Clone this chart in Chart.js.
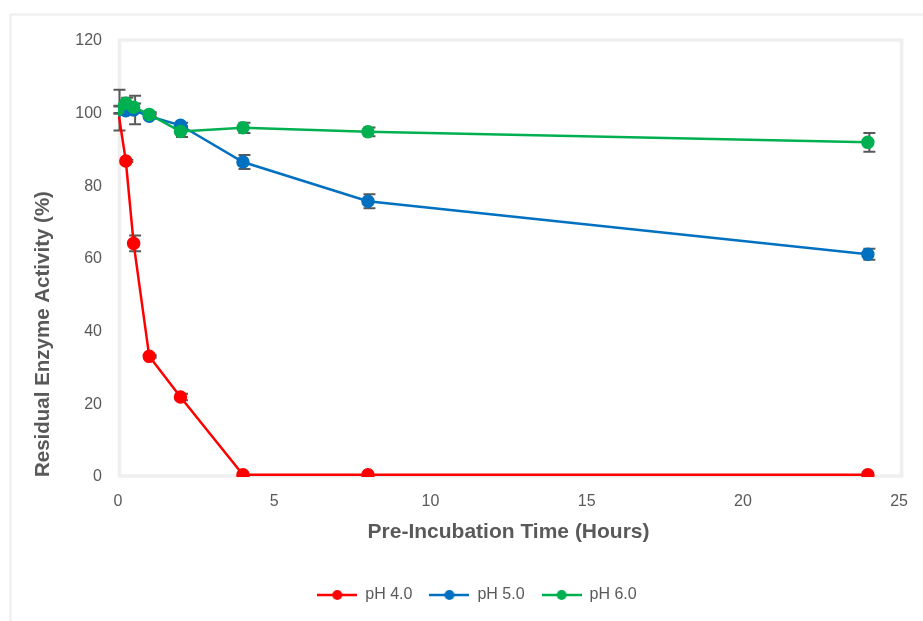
<!DOCTYPE html>
<html>
<head>
<meta charset="utf-8">
<title>Residual Enzyme Activity</title>
<script src="https://cdn.jsdelivr.net/npm/chart.js@4/dist/chart.umd.min.js"></script>
<style>
  html, body { margin: 0; padding: 0; background: #ffffff; }
  #wrap { width: 923px; height: 621px; position: relative; }
</style>
</head>
<body>
<div id="wrap"><canvas id="chart" width="923" height="621"></canvas></div>
<script>
// Pre-incubation time points (hours)
const hours = [0, 0.25, 0.5, 1, 2, 4, 8, 24];

// Residual activity (%) and standard deviation per pH
const ph4 = [101, 87, 64.3, 33.2, 22, 0.6, 0.6, 0.6];
const ph4Err = [5.6, 0.3, 2.2, 0.3, 0.9, 0, 0, 0];

const ph5 = [101, 100.8, 101, 99.3, 96.8, 86.7, 75.9, 61.3];
const ph5Err = [1, 1, 3.9, 0.6, 0.7, 1.9, 1.9, 1.5];

const ph6 = [101.2, 102.9, 101.8, 99.8, 95.1, 96.1, 95.0, 92.1];
const ph6Err = [1, 1.5, 1, 0.6, 1.5, 1.4, 1.2, 2.6];

const seriesLabels = ['pH 4.0', 'pH 5.0', 'pH 6.0'];
const seriesColors = ['#FF0000', '#0070C0', '#00B050'];

const xTicks = { min: 0, max: 25, step: 5 };
const yTicks = { min: 0, max: 120, step: 20 };

const textGray = '#595959';
const fontFamily = '"Liberation Sans", Arial, sans-serif';

function toPoints(values) {
  return hours.map((h, i) => ({ x: h, y: values[i] }));
}

const seriesValues = [ph4, ph5, ph6];
const seriesErrors = [ph4Err, ph5Err, ph6Err];

// Legend symbol: short line with a dot in the middle
function legendSymbol(color) {
  const c = document.createElement('canvas');
  c.width = 40; c.height = 12;
  const g = c.getContext('2d');
  g.strokeStyle = color; g.lineWidth = 2.5;
  g.beginPath(); g.moveTo(0, 6); g.lineTo(40, 6); g.stroke();
  g.fillStyle = color;
  g.beginPath(); g.arc(20, 6, 5, 0, Math.PI * 2); g.fill();
  return c;
}

// Outer frame and plot-area frame
const framePlugin = {
  id: 'frames',
  beforeDraw(chart) {
    const ctx = chart.ctx;
    ctx.save();
    ctx.fillStyle = '#ffffff';
    ctx.fillRect(0, 0, chart.width, chart.height);
    ctx.strokeStyle = '#eeeeee';
    ctx.lineWidth = 2;
    ctx.strokeRect(10.5, 14.5, chart.width + 20, chart.height + 20);
    ctx.restore();
  },
  beforeDatasetsDraw(chart) {
    const { ctx, chartArea: a } = chart;
    ctx.save();
    ctx.strokeStyle = '#efefef';
    ctx.lineWidth = 3.5;
    ctx.strokeRect(a.left + 1.5, a.top - 1, a.right - a.left + 1, a.bottom - a.top);
    ctx.restore();
  }
};

// Vertical error bars with caps
const errorBarPlugin = {
  id: 'errorBars',
  beforeDatasetsDraw(chart) {
    const ctx = chart.ctx;
    const xs = chart.scales.x, ys = chart.scales.y;
    ctx.save();
    ctx.strokeStyle = '#595959';
    ctx.lineWidth = 2;
    seriesValues.forEach((vals, s) => {
      vals.forEach((v, i) => {
        const e = seriesErrors[s][i];
        if (!e) return;
        const px = xs.getPixelForValue(hours[i]) + 1.5;
        const top = ys.getPixelForValue(v + e);
        const bot = ys.getPixelForValue(v - e);
        ctx.beginPath();
        ctx.moveTo(px, top); ctx.lineTo(px, bot);
        ctx.moveTo(px - 6, top); ctx.lineTo(px + 6, top);
        ctx.moveTo(px - 6, bot); ctx.lineTo(px + 6, bot);
        ctx.stroke();
      });
    });
    ctx.restore();
  }
};

// Shift the legend row horizontally
const legendShift = {
  id: 'legendShift',
  afterLayout(chart) {
    if (chart.legend) {
      chart.legend.left += 22;
      chart.legend.right += 22;
    }
  }
};

// Later series are painted over earlier ones
const datasets = seriesLabels.map((label, s) => ({
  label: label,
  data: toPoints(seriesValues[s]),
  order: seriesLabels.length - s,
  borderColor: seriesColors[s],
  backgroundColor: seriesColors[s],
  pointBackgroundColor: seriesColors[s],
  pointBorderColor: seriesColors[s],
  borderWidth: 2.5,
  pointRadius: 5.5,
  pointHoverRadius: 5.5,
  tension: 0,
  fill: false
}));

new Chart(document.getElementById('chart'), {
  type: 'line',
  data: { datasets: datasets },
  plugins: [framePlugin, errorBarPlugin, legendShift],
  options: {
    responsive: false,
    animation: false,
    devicePixelRatio: 1,
    layout: { padding: { left: 10, top: 41, right: 23, bottom: 8 } },
    plugins: {
      tooltip: { enabled: false },
      legend: {
        position: 'bottom',
        labels: {
          usePointStyle: true,
          pointStyleWidth: 40,
          padding: 17,
          color: textGray,
          font: { family: fontFamily, size: 16 },
          generateLabels(chart) {
            return chart.data.datasets.map((d, i) => ({
              text: d.label,
              pointStyle: legendSymbol(seriesColors[i]),
              fillStyle: seriesColors[i],
              strokeStyle: seriesColors[i],
              fontColor: textGray,
              lineWidth: 0,
              hidden: false,
              datasetIndex: i
            }));
          }
        }
      }
    },
    scales: {
      x: {
        type: 'linear',
        min: xTicks.min,
        max: xTicks.max,
        grid: { display: false, drawTicks: false },
        border: { display: false },
        ticks: {
          stepSize: xTicks.step,
          padding: 15,
          color: textGray,
          font: { family: fontFamily, size: 16 }
        },
        title: {
          display: true,
          text: 'Pre-Incubation Time (Hours)',
          color: textGray,
          font: { family: fontFamily, size: 21, weight: 'bold' },
          padding: { top: 0, bottom: 25 }
        },
        afterFit(scale) { scale.height = 93; }
      },
      y: {
        min: yTicks.min,
        max: yTicks.max,
        grid: { display: false, drawTicks: false },
        border: { display: false },
        ticks: {
          stepSize: yTicks.step,
          padding: 16,
          color: textGray,
          font: { family: fontFamily, size: 16 }
        },
        title: {
          display: true,
          text: 'Residual Enzyme Activity (%)',
          align: 'start',
          color: textGray,
          font: { family: fontFamily, size: 20.5, weight: 'bold' },
          padding: { top: 21, bottom: 0 }
        },
        afterFit(scale) { scale.width = 108; }
      }
    }
  }
});
</script>
</body>
</html>
